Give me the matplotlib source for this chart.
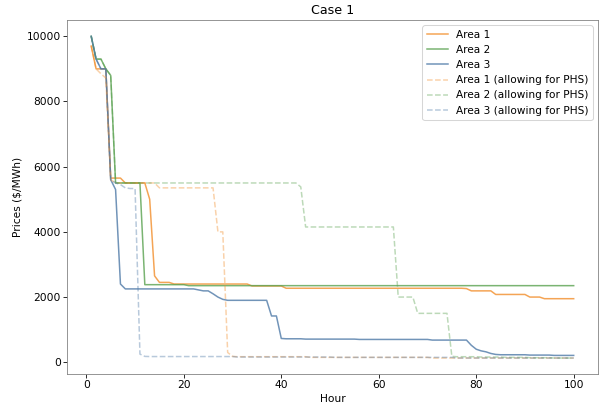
import matplotlib
matplotlib.use("Agg")
import matplotlib.pyplot as plt

hours = list(range(1, 101))

# Area prices without PHS ($/MWh)
area1 = [9700, 9000, 9000, 9000, 5650, 5650, 5650, 5500, 5500, 5500,
         5500, 5500, 5000, 2650, 2450, 2450, 2450, 2400, 2400, 2400,
         2400, 2400, 2400, 2400, 2400, 2400, 2400, 2400, 2400, 2400,
         2400, 2400, 2400, 2340, 2340, 2340, 2340, 2340, 2340, 2340,
         2270, 2270, 2270, 2270, 2270, 2270, 2270, 2270, 2270, 2270,
         2270, 2270, 2270, 2270, 2270, 2270, 2270, 2270, 2270, 2270,
         2270, 2270, 2270, 2270, 2270, 2270, 2270, 2270, 2270, 2270,
         2270, 2270, 2270, 2270, 2270, 2270, 2270, 2260, 2190, 2190,
         2190, 2190, 2190, 2080, 2080, 2080, 2080, 2080, 2080, 2080,
         2000, 2000, 2000, 1950, 1950, 1950, 1950, 1950, 1950, 1950]

area2 = [10000, 9300, 9300, 9000, 8800, 5500, 5500, 5500, 5500, 5500,
         5500, 2380, 2380, 2380, 2380, 2380, 2380, 2380, 2380, 2380,
         2350, 2350, 2350, 2350, 2350, 2350, 2350, 2350, 2350, 2350,
         2350, 2350, 2350, 2350, 2350, 2350, 2350, 2350, 2350, 2350,
         2350, 2350, 2350, 2350, 2350, 2350, 2350, 2350, 2350, 2350,
         2350, 2350, 2350, 2350, 2350, 2350, 2350, 2350, 2350, 2350,
         2350, 2350, 2350, 2350, 2350, 2350, 2350, 2350, 2350, 2350,
         2350, 2350, 2350, 2350, 2350, 2350, 2350, 2350, 2350, 2350,
         2350, 2350, 2350, 2350, 2350, 2350, 2350, 2350, 2350, 2350,
         2350, 2350, 2350, 2350, 2350, 2350, 2350, 2350, 2350, 2350]

area3 = [10000, 9300, 9000, 9000, 5600, 5300, 2400, 2250, 2250, 2250,
         2250, 2250, 2250, 2250, 2250, 2250, 2250, 2250, 2250, 2250,
         2250, 2250, 2220, 2190, 2190, 2100, 2000, 1930, 1900, 1900,
         1900, 1900, 1900, 1900, 1900, 1900, 1900, 1420, 1420, 730,
         720, 720, 720, 720, 710, 710, 710, 710, 710, 710,
         710, 710, 710, 710, 710, 700, 700, 700, 700, 700,
         700, 700, 700, 700, 700, 700, 700, 700, 700, 700,
         680, 680, 680, 680, 680, 680, 680, 680, 520, 400,
         350, 320, 270, 240, 230, 230, 230, 230, 230, 230,
         220, 220, 220, 220, 220, 210, 210, 210, 210, 210]

# Area prices allowing for PHS
area1_phs = [9700, 9000, 8850, 8720, 5600, 5500, 5500, 5500, 5500, 5500,
             5500, 5500, 5500, 5500, 5350, 5350, 5350, 5350, 5350, 5350,
             5350, 5350, 5350, 5350, 5350, 5350, 4000, 4000, 300, 180,
             170, 170, 170, 170, 170, 170, 170, 170, 170, 170,
             170, 170, 170, 170, 170, 150, 150, 150, 150, 150,
             150, 150, 150, 150, 150, 150, 150, 150, 150, 150,
             150, 150, 150, 150, 150, 150, 150, 150, 150, 150,
             130, 130, 130, 130, 130, 130, 130, 130, 130, 130,
             130, 130, 130, 130, 130, 130, 130, 130, 130, 130,
             130, 130, 130, 130, 130, 130, 130, 130, 130, 130]

area2_phs = [10000, 9300, 9300, 9000, 8800, 5500, 5500, 5500, 5500, 5500,
             5500, 5500, 5500, 5500, 5500, 5500, 5500, 5500, 5500, 5500,
             5500, 5500, 5500, 5500, 5500, 5500, 5500, 5500, 5500, 5500,
             5500, 5500, 5500, 5500, 5500, 5500, 5500, 5500, 5500, 5500,
             5500, 5500, 5500, 5380, 4150, 4150, 4150, 4150, 4150, 4150,
             4150, 4150, 4150, 4150, 4150, 4150, 4150, 4150, 4150, 4150,
             4150, 4150, 4150, 2000, 2000, 2000, 2000, 1500, 1500, 1500,
             1500, 1500, 1500, 1500, 180, 170, 170, 170, 170, 170,
             160, 160, 160, 160, 160, 150, 150, 150, 150, 150,
             140, 140, 140, 140, 140, 130, 130, 130, 130, 130]

area3_phs = [10000, 9300, 9000, 9000, 5600, 5500, 5450, 5350, 5330, 5330,
             250, 180, 175, 175, 175, 175, 175, 175, 175, 175,
             175, 175, 175, 175, 175, 175, 175, 175, 175, 175,
             160, 160, 160, 160, 160, 160, 160, 160, 160, 160,
             160, 160, 160, 160, 160, 160, 160, 160, 160, 160,
             150, 150, 150, 150, 150, 150, 150, 150, 150, 150,
             150, 150, 150, 150, 150, 150, 150, 150, 150, 150,
             150, 150, 150, 150, 150, 130, 130, 130, 130, 130,
             130, 130, 130, 130, 130, 130, 130, 130, 130, 130,
             130, 130, 130, 130, 130, 130, 130, 130, 130, 130]

labels = ["Area 1", "Area 2", "Area 3"]
colors = ["#f28e2b", "#59a14f", "#4e79a7"]

# drawn at a low dpi so default sizes shrink like in the reference
DPI = 73
fig = plt.figure(figsize=(599 / DPI, 404 / DPI), dpi=DPI)
ax = fig.add_axes([0.112, 0.074, 0.886, 0.876])

for y, lab, c in zip([area1, area2, area3], labels, colors):
    ax.plot(hours, y, color=c, alpha=0.8, label=lab)
for y, lab, c in zip([area1_phs, area2_phs, area3_phs], labels, colors):
    ax.plot(hours, y, color=c, alpha=0.4, ls="--",
            label=lab + " (allowing for PHS)")

ax.set_title("Case 1", fontsize=12.5)
ax.set_xlabel("Hour", fontsize=10.5)
ax.set_ylabel(r"Prices (\$/MWh)", fontsize=10.5)
ax.tick_params(labelsize=10.5, pad=2.5)
for s in ax.spines.values():
    s.set_edgecolor("#808080")
ax.legend(loc="upper right", fontsize=10.3)

fig.savefig("out.png", dpi=DPI)
